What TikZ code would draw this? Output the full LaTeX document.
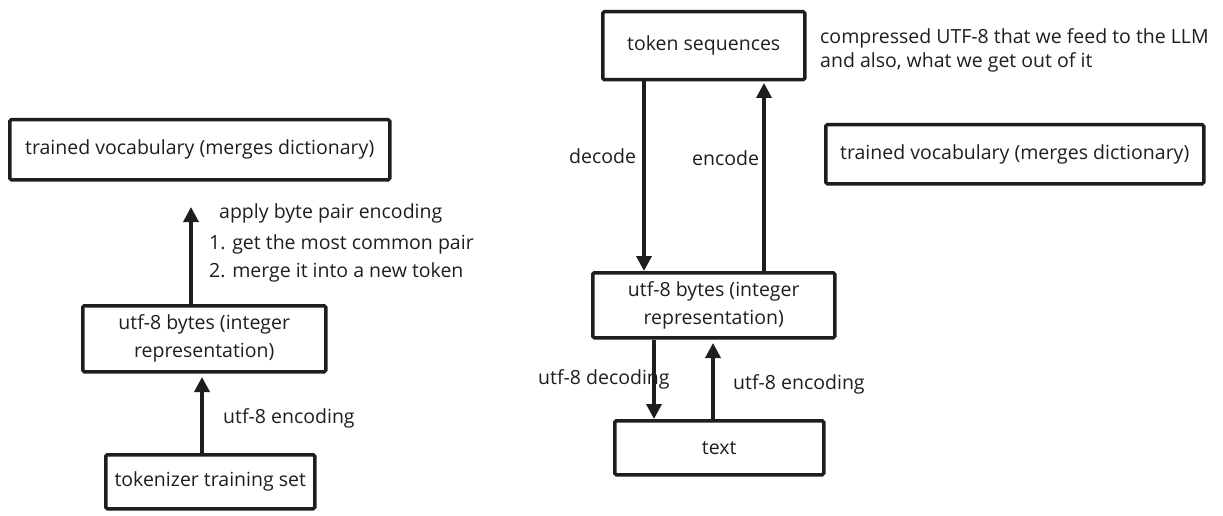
\documentclass[tikz,border=0pt]{standalone}
\usepackage{fontspec}
\setmainfont{Open Sans}
\usetikzlibrary{arrows.meta,calc}
\definecolor{ink}{HTML}{1E1E1E}
\begin{document}
\begin{tikzpicture}[x=1pt,y=-1pt,
  box/.style={draw=ink,line width=3.5pt,rounded corners=1.5pt,inner sep=0pt,text=ink,font=\fontsize{19.5}{28}\selectfont,align=center,anchor=north west},
  lbl/.style={text=ink,font=\fontsize{19.5}{28}\selectfont,inner sep=0pt,anchor=west},
  arr/.style={draw=ink,line width=3.5pt,-{Triangle[length=15pt,width=15pt]}}]
\useasboundingbox (0,0) rectangle (1223,516);
% left column
\node[box,minimum width=380pt,minimum height=60pt] (vocL) at (8,118) {trained vocabulary (merges dictionary)};
\node[box,minimum width=243pt,minimum height=66pt] (utfL) at (81,304) {utf-8 bytes (integer\\representation)};
\node[box,minimum width=209pt,minimum height=54pt] (trainset) at (104,453) {tokenizer training set};
\coordinate (tA) at (191,207);
\coordinate (tB) at (202,377);
\draw[arr] (utfL.north -| tA) -- (tA);
\draw[arr] (trainset.north -| tB) -- (tB);
\node[lbl] (bpe) at (219,213) {apply byte pair encoding};
\node[lbl] (bpe1) at (209,244) {1. get the most common pair};
\node[lbl] (bpe2) at (209,272) {2. merge it into a new token};
\node[lbl] (encL) at (223,418) {utf-8 encoding};
% right column
\node[box,minimum width=202pt,minimum height=68pt] (tok) at (601,10) {token sequences};
\node[box,minimum width=378pt,minimum height=59pt] (vocR) at (824,123) {trained vocabulary (merges dictionary)};
\node[box,minimum width=242pt,minimum height=65pt] (utfR) at (591,271) {utf-8 bytes (integer\\representation)};
\node[box,minimum width=209pt,minimum height=54pt] (txt) at (613,419) {text};
\node[lbl,align=left,anchor=north west,font=\fontsize{19.5}{24}\selectfont] (note) at (820,28) {compressed UTF-8 that we feed to the LLM\\and also, what we get out of it};
\coordinate (xdec) at (644,0);
\coordinate (tEnc) at (764,83);
\coordinate (xd8) at (654,0);
\coordinate (tE8) at (713,343);
\draw[arr] (tok.south -| xdec) -- (utfR.north -| xdec);
\draw[arr] (utfR.north -| tEnc) -- (tEnc);
\draw[arr] (utfR.south -| xd8) -- (txt.north -| xd8);
\draw[arr] (txt.north -| tE8) -- (tE8);
\node[lbl] (dec) at (569,156) {decode};
\node[lbl] (enc) at (692,158) {encode};
\node[lbl] (dec8) at (538,379) {utf-8 decoding};
\node[lbl] (enc8) at (733,384) {utf-8 encoding};
\end{tikzpicture}
\end{document}
